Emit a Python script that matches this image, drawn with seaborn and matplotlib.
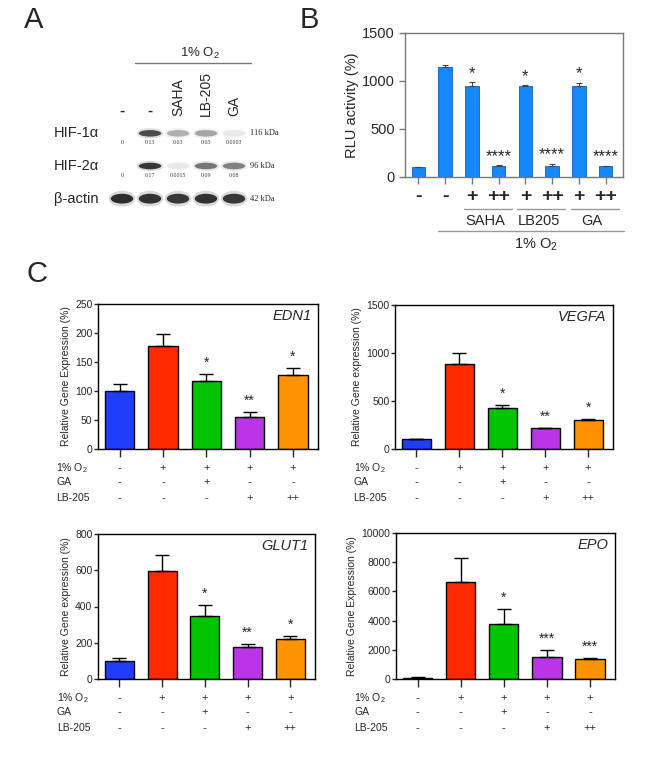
import matplotlib
matplotlib.use("Agg")
import matplotlib.pyplot as plt
import matplotlib.transforms as mtrans
from matplotlib.patches import Ellipse
import pandas as pd
import seaborn as sns

# ---------------- data ----------------
# panel A (western blot, band strength read by eye, quantification printed under bands)
blot_lanes = ["-", "-", "SAHA", "LB-205", "GA"]
blot_rows = ["HIF-1\u03b1", "HIF-2\u03b1", "\u03b2-actin"]
blot_kda = ["116 kDa", "96 kDa", "42 kDa"]
hif1_band = [0.0, 0.75, 0.30, 0.35, 0.08]
hif2_band = [0.0, 0.85, 0.08, 0.55, 0.50]
actin_band = [0.90, 0.88, 0.85, 0.88, 0.85]
hif1_quant = ["0", "0.13", "0.03", "0.03", "0.0003"]
hif2_quant = ["0", "0.17", "0.0015", "0.09", "0.08"]

# panel B (luciferase)
rlu_cond = ["ctrl", "hypoxia", "SAHA+", "SAHA++", "LB205+", "LB205++", "GA+", "GA++"]
rlu_ticks = ["-", "-", "+", "++", "+", "++", "+", "++"]
rlu_mean = [100, 1150, 950, 110, 950, 115, 950, 110]
rlu_err = [8, 15, 35, 10, 6, 22, 30, 8]
rlu_stars = ["", "", "*", "****", "*", "****", "*", "****"]
rlu_groups = ["SAHA", "LB205", "GA"]

# panel C (qPCR)
c_cond = ["ctrl", "hypoxia", "GA", "LB205+", "LB205++"]
c_row_names = ["1% O$_2$", "GA", "LB-205"]
c_rows = [["-", "+", "+", "+", "+"],
          ["-", "-", "+", "-", "-"],
          ["-", "-", "-", "+", "++"]]
c_colors = ["#1f3dfa", "#ff2a00", "#00c400", "#b935e6", "#ff9200"]

edn1_mean = [100, 178, 118, 55, 127]
edn1_err = [12, 20, 12, 9, 12]
edn1_stars = ["", "", "*", "**", "*"]

vegfa_mean = [100, 885, 425, 215, 305]
vegfa_err = [8, 115, 35, 5, 10]
vegfa_stars = ["", "", "*", "**", "*"]

glut1_mean = [100, 595, 350, 175, 218]
glut1_err = [15, 90, 60, 18, 22]
glut1_stars = ["", "", "*", "**", "*"]

epo_mean = [100, 6650, 3750, 1500, 1350]
epo_err = [30, 1650, 1050, 480, 60]
epo_stars = ["", "", "*", "***", "***"]

# ---------------- style ----------------
sns.set_theme(style="ticks")
plt.rcParams["font.family"] = ["Liberation Sans", "DejaVu Sans"]
plt.rcParams["mathtext.default"] = "regular"

W, H = 650, 765
fig = plt.figure(figsize=(W / 100, H / 100), dpi=100)


def px_axes(l, t, r, b):
    return fig.add_axes([l / W, 1 - b / H, (r - l) / W, (b - t) / H])


def ftext(x, y, s, **kw):
    return fig.text(x / W, 1 - y / H, s, **kw)


# panel letters
for letter, x, y in [("A", 24, 6), ("B", 300, 6), ("C", 26, 260)]:
    ftext(x, y, letter, fontsize=21, va="top", ha="left")

# ---------------- panel A ----------------
ftext(200, 53, "1% O$_2$", fontsize=9.5, ha="center", va="center")
fig.add_artist(plt.Line2D([135 / W, 251 / W], [1 - 63 / H, 1 - 63 / H], color="#777777", lw=1))

ax_blot = px_axes(108, 117, 248, 215)
ax_blot.set_xlim(-0.5, 4.5)
ax_blot.set_ylim(2.5, -0.5)
ax_blot.axis("off")

for i, name in enumerate(blot_lanes):
    tr = mtrans.blended_transform_factory(ax_blot.transData, fig.transFigure)
    if name == "-":
        ax_blot.text(i, 1 - 111 / H, name, transform=tr, fontsize=11, fontweight="bold",
                     ha="center", va="center")
    else:
        ax_blot.text(i, 1 - 116 / H, name, transform=tr, fontsize=10, ha="center",
                     va="bottom", rotation=90)

bands = [hif1_band, hif2_band, actin_band]
heights = [0.2, 0.2, 0.3]
for r, row in enumerate(bands):
    for i, v in enumerate(row):
        if v <= 0:
            continue
        ax_blot.add_patch(Ellipse((i, r), 0.95, heights[r] * 1.6, color="#555555", alpha=v * 0.25, lw=0))
        ax_blot.add_patch(Ellipse((i, r), 0.8, heights[r], color="#1a1a1a", alpha=v, lw=0))

for r, quant in enumerate([hif1_quant, hif2_quant]):
    for i, q in enumerate(quant):
        ax_blot.text(i, r + 0.28, q, fontsize=4.2, family="Liberation Serif",
                     ha="center", va="center", color="#333333")

for r, (name, kda) in enumerate(zip(blot_rows, blot_kda)):
    tr = mtrans.blended_transform_factory(fig.transFigure, ax_blot.transData)
    ax_blot.text(54 / W, r, name, transform=tr, fontsize=10.5, ha="left", va="center")
    ax_blot.text(250 / W, r, kda, transform=tr, fontsize=6, family="Liberation Serif",
                 ha="left", va="center")

# ---------------- panel B ----------------
axB = px_axes(405, 33, 623, 177)
dfB = pd.DataFrame({"cond": rlu_cond, "val": rlu_mean})
sns.barplot(data=dfB, x="cond", y="val", hue="cond", palette=["#1487fb"] * len(rlu_cond),
            legend=False, width=0.5, saturation=1, edgecolor="#0b5fc0", linewidth=0.6, ax=axB)
axB.errorbar(range(len(rlu_cond)), rlu_mean, yerr=[[0] * len(rlu_err), rlu_err], fmt="none",
             ecolor="#444444", elinewidth=0.8, capsize=2.5, capthick=0.8)
for i, s in enumerate(rlu_stars):
    if s:
        axB.annotate(s, (i, rlu_mean[i] + rlu_err[i]), xytext=(0, 1), textcoords="offset points",
                     ha="center", va="bottom", fontsize=12)
axB.set_xlim(-0.5, 7.65)
axB.set_ylim(0, 1500)
axB.set_yticks([0, 500, 1000, 1500])
axB.set_xticks(range(len(rlu_cond)))
axB.set_xticklabels(rlu_ticks, fontsize=14, fontweight="bold")
axB.tick_params(axis="y", labelsize=10.5, length=4, color="#777777", width=1)
axB.tick_params(axis="x", length=5, color="#777777", width=1, pad=3)
for sp in axB.spines.values():
    sp.set_color("#777777")
    sp.set_linewidth(1)
axB.set_xlabel("")
axB.set_ylabel("RLU activity (%)", fontsize=10.5, labelpad=2)

hB = 144
trB = mtrans.blended_transform_factory(axB.transData, axB.transAxes)
for g, name in enumerate(rlu_groups):
    a, b = 2 + 2 * g, 3 + 2 * g
    axB.plot([a - 0.3, b + 0.5], [-32 / hB, -32 / hB], transform=trB, clip_on=False,
             color="#999999", lw=1)
    axB.text((a + b) / 2, -44 / hB, name, transform=trB, ha="center", va="center", fontsize=10.5)
axB.plot([1 - 0.26, 7 + 0.67], [-54 / hB, -54 / hB], transform=trB, clip_on=False,
         color="#999999", lw=1)
axB.text(4.4, -68 / hB, "1% O$_2$", transform=trB, ha="center", va="center", fontsize=10.5)


# ---------------- panel C ----------------
def gene_panel(ax, mean, err, stars, ymax, step, gene, ylabel, h):
    df = pd.DataFrame({"cond": c_cond, "val": mean})
    sns.barplot(data=df, x="cond", y="val", hue="cond", palette=c_colors, legend=False,
                width=0.68, saturation=1, edgecolor="black", linewidth=1.0, ax=ax)
    ax.errorbar(range(len(c_cond)), mean, yerr=[[0] * len(err), err], fmt="none",
                ecolor="black", elinewidth=1.0, capsize=5, capthick=1.0)
    for i, s in enumerate(stars):
        if s:
            ax.annotate(s, (i, mean[i] + err[i]), xytext=(0, 3), textcoords="offset points",
                        ha="center", va="bottom", fontsize=10)
    ax.set_xlim(-0.5, 4.58)
    ax.set_ylim(0, ymax)
    ax.set_yticks(range(0, ymax + 1, step))
    ax.set_xticks(range(len(c_cond)))
    ax.set_xticklabels([])
    ax.tick_params(axis="y", labelsize=7.5, length=3, width=1, pad=1)
    ax.tick_params(axis="x", length=6, width=1)
    for sp in ax.spines.values():
        sp.set_color("black")
        sp.set_linewidth(1)
    ax.set_xlabel("")
    ax.set_ylabel(ylabel, fontsize=7.5, labelpad=3)
    ax.text(0.97, 0.92, gene, transform=ax.transAxes, fontsize=10.5, style="italic",
            ha="right", va="center")
    tr = mtrans.blended_transform_factory(ax.transData, ax.transAxes)
    for r, (rname, row) in enumerate(zip(c_row_names, c_rows)):
        dy = [19, 33, 49][r] / h
        ax.text(-0.19, -dy, rname, transform=ax.transAxes, ha="left",
                va="center", fontsize=7.5)
        for i, s in enumerate(row):
            ax.text(i, -dy, s, transform=tr, ha="center", va="center", fontsize=8)


ax1 = px_axes(98, 304, 318, 449)
gene_panel(ax1, edn1_mean, edn1_err, edn1_stars, 250, 50, "EDN1",
           "Relative Gene Expression (%)", 145)
ax2 = px_axes(395, 305, 613, 449)
gene_panel(ax2, vegfa_mean, vegfa_err, vegfa_stars, 1500, 500, "VEGFA",
           "Relative Gene expression (%)", 144)
ax3 = px_axes(98, 534, 315, 679)
gene_panel(ax3, glut1_mean, glut1_err, glut1_stars, 800, 200, "GLUT1",
           "Relative Gene expression (%)", 145)
ax4 = px_axes(396, 533, 615, 679)
gene_panel(ax4, epo_mean, epo_err, epo_stars, 10000, 2000, "EPO",
           "Relative Gene Expression (%)", 146)

fig.savefig("out.png", dpi=100)
